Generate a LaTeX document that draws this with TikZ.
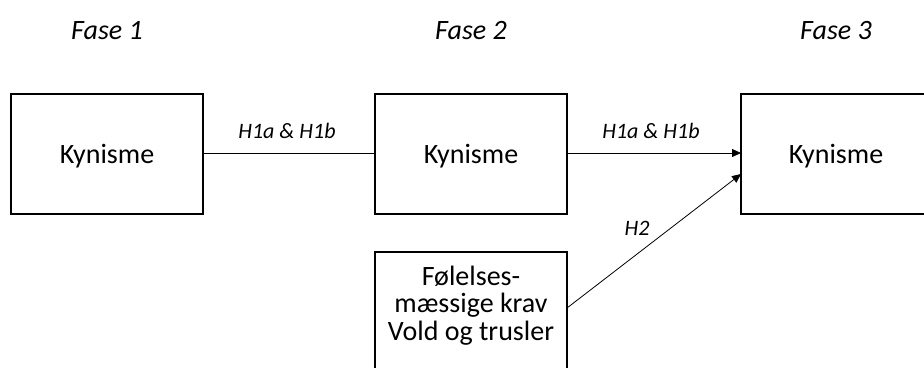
\documentclass[tikz,border=0pt]{standalone}
\usepackage{fontspec}
\setmainfont{Carlito}
\usetikzlibrary{arrows.meta}
\tikzset{
  box/.style={draw=black, line width=1.6pt, fill=white, inner sep=0pt},
  boxtext/.style={font=\fontsize{28}{27.5}\selectfont, align=center},
  phase/.style={font=\fontsize{28}{30}\selectfont\itshape},
  lab/.style={font=\fontsize{22}{24}\selectfont\itshape},
  conn/.style={line width=0.8pt, draw=black},
  arr/.style={conn, -{Triangle[length=9pt,width=8pt]}}
}
\begin{document}
\begin{tikzpicture}[x=1pt,y=-1pt]
\useasboundingbox (0,0) rectangle (924,367);
% boxes
\draw[box] (11,94) rectangle (203,214);
\coordinate (b1e) at (203,153);
\draw[box] (375,94) rectangle (567,214);
\coordinate (b2w) at (375,153);
\coordinate (b2e) at (567,153);
\draw[box] (741,94) rectangle (940,214);
\coordinate (b3w) at (741,153);
\coordinate (b3sw) at (741,174);
\draw[box] (375,252) rectangle (567,380);
\coordinate (b4e) at (567,308);
% box texts
\node[boxtext] (k1) at (107,156) {Kynisme};
\node[boxtext] (k2) at (471,156) {Kynisme};
\node[boxtext] (k3) at (836,156) {Kynisme};
\node[boxtext, anchor=base] (t1) at (471,285) {Følelses-};
\node[boxtext, anchor=base] (t2) at (471,312) {mæssige krav};
\node[boxtext, anchor=base] (t3) at (471,340) {Vold og trusler};
% phases
\node[phase] (f1) at (107,31) {Fase 1};
\node[phase] (f2) at (471,31) {Fase 2};
\node[phase] (f3) at (836,31) {Fase 3};
% connectors
\draw[conn] (b1e) -- (b2w);
\draw[arr] (b2e) -- (b3w);
\draw[arr] (b4e) -- (b3sw);
% labels
\node[lab, anchor=base] (l1) at (287,138) {H1a \& H1b};
\node[lab, anchor=base] (l2) at (651,138) {H1a \& H1b};
\node[lab, anchor=base] (l3) at (637,235) {H2};
\end{tikzpicture}
\end{document}
